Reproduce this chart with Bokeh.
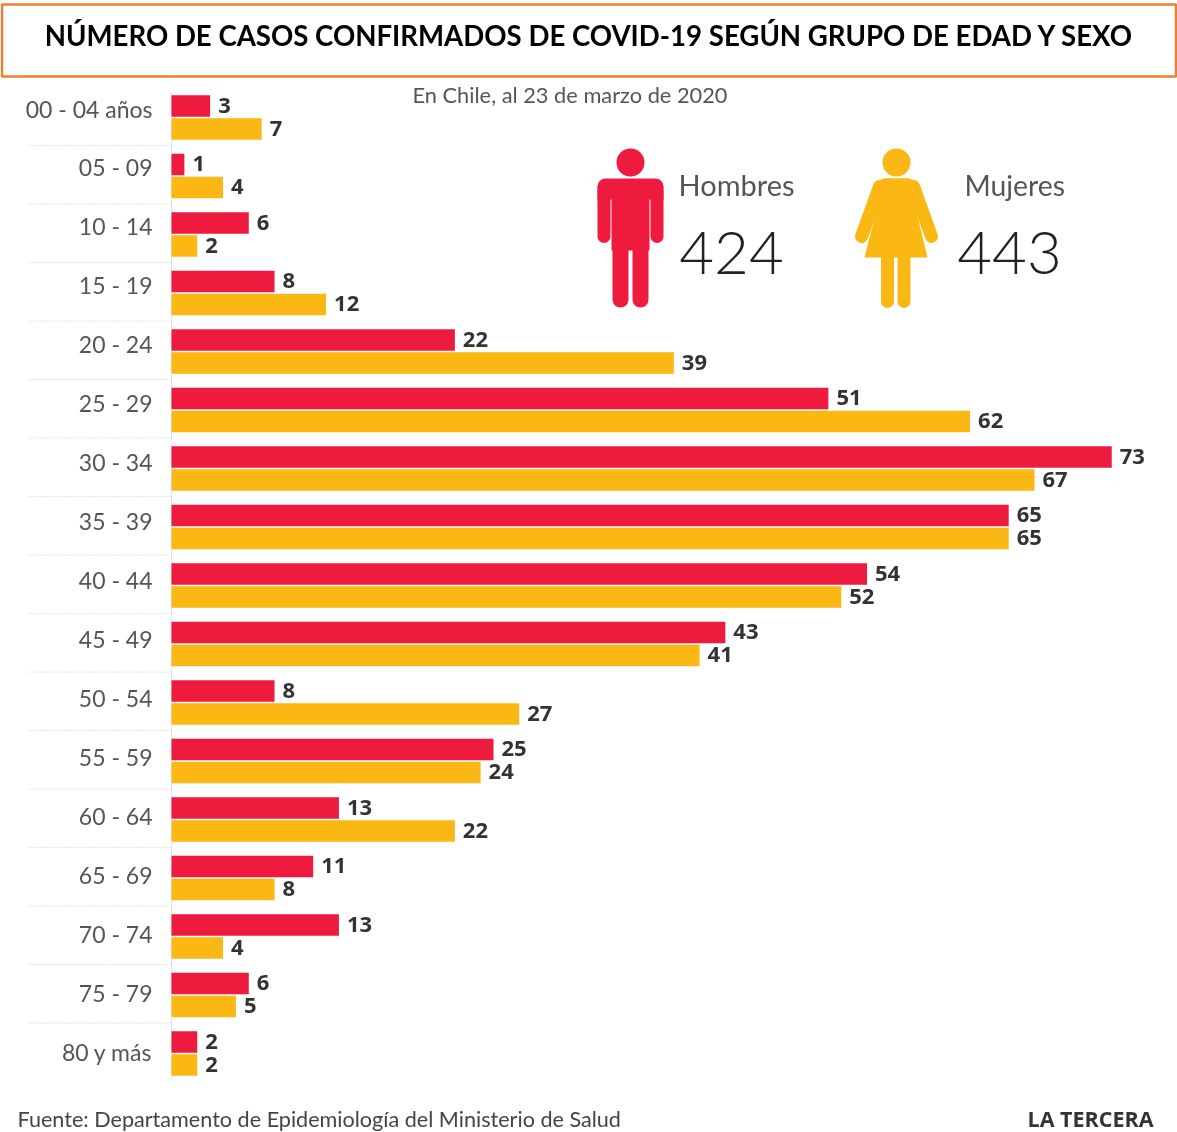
from bokeh.plotting import figure
from bokeh.models import ColumnDataSource
from bokeh.core.properties import value
from bokeh.embed import file_html
from bokeh.resources import INLINE

title_text = "NÚMERO DE CASOS CONFIRMADOS DE COVID-19 SEGÚN GRUPO DE EDAD Y SEXO"
subtitle_text = "En Chile, al 23 de marzo de 2020"
source_text = "Fuente: Departamento de Epidemiología del Ministerio de Salud"
brand_text = "LA TERCERA"
groups = ["00 - 04 años", "05 - 09", "10 - 14", "15 - 19", "20 - 24", "25 - 29", "30 - 34", "35 - 39",
          "40 - 44", "45 - 49", "50 - 54", "55 - 59", "60 - 64", "65 - 69", "70 - 74", "75 - 79", "80 y más"]
hombres = [3, 1, 6, 8, 22, 51, 73, 65, 54, 43, 8, 25, 13, 11, 13, 6, 2]
mujeres = [7, 4, 2, 12, 39, 62, 67, 65, 52, 41, 27, 24, 22, 8, 4, 5, 2]
total_hombres = 424
total_mujeres = 443

W, H = 1177, 1132
RED, YEL = "#EE1B3F", "#FBB714"
GREY, DARK = "#555555", "#333333"

# Scale: page pixels <-> chart units
X0, KX = 171.0, 12.88
Y0, KY = 117.0, 58.5
x_rng = (-X0 / KX, (W - X0) / KX)
y_rng = ((H - Y0) / KY, -Y0 / KY)
def X(px): return (px - X0) / KX
def Y(py): return (py - Y0) / KY

p = figure(width=W, height=H, x_range=x_rng, y_range=y_rng, toolbar_location=None,
           output_backend="svg", min_border=0, outline_line_color=None,
           background_fill_color="white", border_fill_color="white", x_axis_type="linear")
p.styles = {"position": "fixed", "left": "0px", "top": "0px"}
p.axis.visible = False
p.grid.visible = False

rows = list(range(len(groups)))
BAR_H = 21.5 / KY
OFF = 11.5 / KY
src = ColumnDataSource(dict(
    row=rows, group=groups, h=hombres, m=mujeres,
    yh=[r - OFF for r in rows], ym=[r + OFF for r in rows],
    ylab=[r * 58.94 / KY - 9 / KY for r in rows],
    sep=[r + 0.48 for r in rows],
    ht=[str(v) for v in hombres], mt=[str(v) for v in mujeres],
    zero=[0] * len(rows),
    sepl=[X(28)] * len(rows),
))

# separators and baseline
p.segment(x0="sepl", x1="zero", y0="sep", y1="sep", source=ColumnDataSource(
    {k: src.data[k][:-1] for k in ("sepl", "zero", "sep")}),
    line_color="#c9c9c9", line_width=1, line_dash="1 2")
p.segment(x0=[0], x1=[0], y0=[Y(92)], y1=[Y(1080)], line_color="#e2e2e2", line_width=1)

# bars
p.hbar(y="yh", left=0, right="h", height=BAR_H, source=src, fill_color=RED, line_color=None)
p.hbar(y="ym", left=0, right="m", height=BAR_H, source=src, fill_color=YEL, line_color=None)

# value labels
for ycol, xcol, tcol in (("yh", "h", "ht"), ("ym", "m", "mt")):
    p.text(x=xcol, y=ycol, text=tcol, source=src, x_offset=8, y_offset=-1, text_baseline="middle",
           text_align="left", text_font=value("Open Sans"), text_font_style="bold",
           text_font_size="22px", text_color=DARK)

# group labels
p.text(x=X(152), y="ylab", text="group", source=src, text_align="right", text_baseline="middle",
       text_font=value("Lato"), text_font_size="23px", text_color=GREY)

# title box
p.quad(left=X(1.5), right=X(1175.5), top=Y(4), bottom=Y(76), fill_color="white", line_color="#ED7D31", line_width=2.5)
def label(px, py, s, size, color, align="left", font="Open Sans", style="normal"):
    p.text(x=[X(px)], y=[Y(py)], text=[s], text_align=align, text_baseline="middle",
           text_font=value(font), text_font_size=size, text_color=color, text_font_style=style)

label(589, 35, title_text, "27.6px", "#000000", "center", "Lato", "bold")
label(412, 94, subtitle_text, "21.8px", GREY, font="Lato")
label(17, 1118, source_text, "21.6px", "#444444", font="Lato")
label(1153, 1118, brand_text, "21.5px", DARK, "right", "Open Sans", "bold")
label(678, 184, "Hombres", "29px", GREY, font="Lato")
label(964, 184, "Mujeres", "28.3px", GREY, font="Lato")
label(731, 252, str(total_hombres), "60px", "#222222", "center", "Lato Light")
label(1009, 252, str(total_mujeres), "60px", "#222222", "center", "Lato Light")

def stroke(pts, width, color):
    l = p.line([X(a) for a, b in pts], [Y(b) for a, b in pts], line_width=width, line_color=color)
    l.glyph.line_cap = "round"
    l.glyph.line_join = "round"

def poly(pts, color):
    p.patch([X(a) for a, b in pts], [Y(b) for a, b in pts], fill_color=color, line_color=None)

def head(cx, cy, color):
    p.scatter(x=[X(cx)], y=[Y(cy)], size=28, marker="circle", fill_color=color, line_color=None)

# man icon
head(630, 162, RED)
stroke([(605, 186), (655, 186)], 16, RED)
stroke([(603.5, 190), (603.5, 236)], 13, RED)
stroke([(656.5, 190), (656.5, 236)], 13, RED)
poly([(597, 186), (663, 186), (663, 199), (649, 199), (649, 250), (611, 250), (611, 199), (597, 199)], RED)
stroke([(620, 245), (620, 299)], 16, RED)
stroke([(640, 245), (640, 299)], 16, RED)

# woman icon
head(896, 162, YEL)
stroke([(884, 184), (908, 184)], 12, YEL)
stroke([(879, 186), (861, 236)], 13, YEL)
stroke([(913, 186), (931, 236)], 13, YEL)
stroke([(884, 197), (866, 252)], 2, "white")
stroke([(908, 197), (926, 252)], 2, "white")
stroke([(887, 255), (887, 301)], 13, YEL)
stroke([(903.5, 255), (903.5, 301)], 13, YEL)
poly([(884, 178), (908, 178), (927, 257), (864, 257)], YEL)

open("out.html", "w").write(file_html(p, INLINE))
